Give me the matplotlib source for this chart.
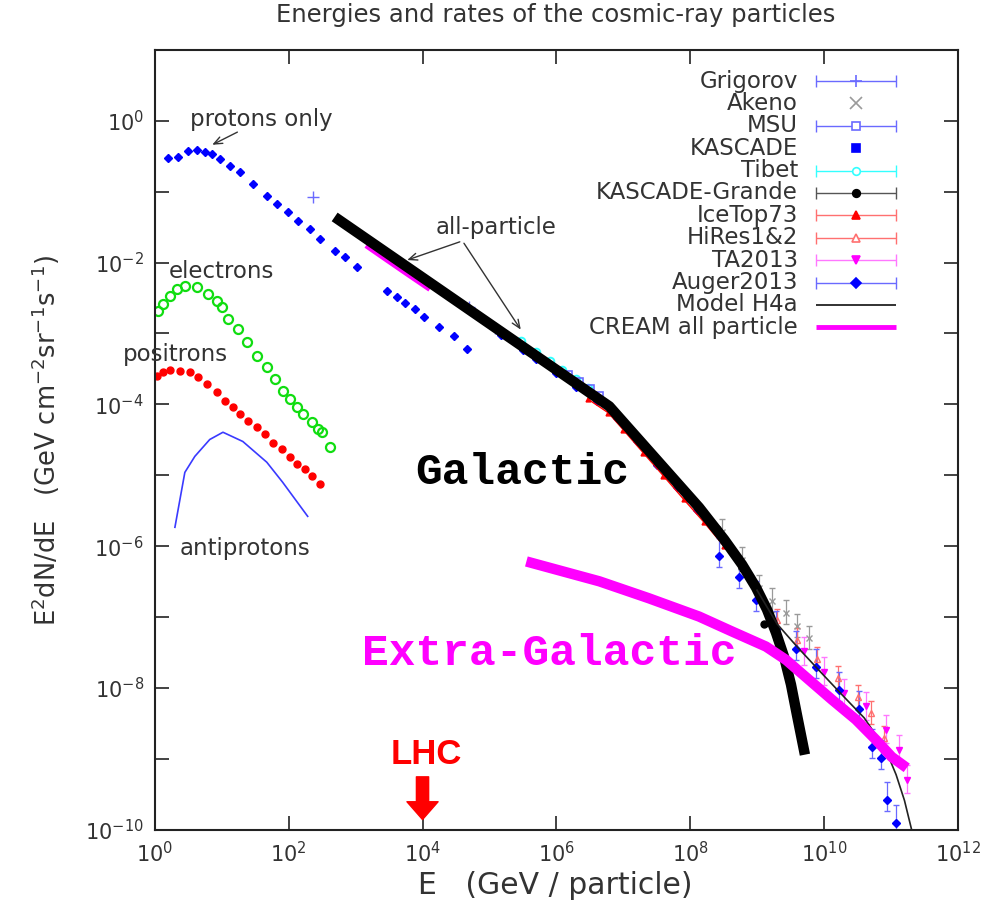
import math

import matplotlib
matplotlib.use("Agg")
import matplotlib.pyplot as plt
import matplotlib.ticker as ticker

plt.rcParams["font.family"] = ["DejaVu Sans"]
plt.rcParams["mathtext.fontset"] = "dejavusans"

# ---------------------------------------------------------------------------
# Data
# ---------------------------------------------------------------------------
protons_E = [1.56, 2.2, 3.1, 4.2, 5.6, 7.1, 9.3, 13.2, 18.6, 29, 47, 66, 97, 136,
             206, 290, 486, 686, 1035, 2900, 4090, 5500, 7600, 10700, 17900,
             30000, 47000]
protons_F = [0.30, 0.31, 0.377, 0.39, 0.365, 0.342, 0.29, 0.231, 0.19, 0.129,
             0.087, 0.067, 0.052, 0.0387, 0.0298, 0.0215, 0.0146, 0.012, 0.00867,
             0.00398, 0.00327, 0.0027, 0.00221, 0.0017, 0.00123, 0.00092, 0.0006]

electrons_E = [1.11, 1.32, 1.67, 2.13, 2.8, 4.2, 6.2, 8.4, 10, 12.3, 17.3, 23.6,
               33.3, 47, 62, 81, 103, 132, 162, 220, 271, 310, 409]
electrons_F = [2.07e-3, 2.6e-3, 3.37e-3, 4.24e-3, 4.68e-3, 4.52e-3, 3.6e-3,
               2.87e-3, 2.36e-3, 1.6e-3, 1.15e-3, 7.6e-4, 4.8e-4, 3.35e-4,
               2.27e-4, 1.53e-4, 1.18e-4, 9.1e-5, 7.3e-5, 5.6e-5, 4.5e-5,
               4.1e-5, 2.5e-5]

positrons_E = [1.07, 1.32, 1.67, 2.36, 3.33, 4.4, 6.0, 8.4, 11.1, 14.6, 18.6,
               24.4, 33.3, 43.8, 57.7, 78.6, 103, 132, 173, 220, 290]
positrons_F = [2.5e-4, 2.85e-4, 3.04e-4, 2.94e-4, 2.85e-4, 2.42e-4, 1.93e-4,
               1.49e-4, 1.11e-4, 9.1e-5, 7.3e-5, 5.8e-5, 4.8e-5, 3.8e-5, 2.9e-5,
               2.33e-5, 1.8e-5, 1.43e-5, 1.22e-5, 9.7e-6, 7.5e-6]

antiprotons_E = [1.99, 2.8, 3.95, 6.6, 10.4, 20.6, 47, 81, 192]
antiprotons_F = [1.85e-6, 1.1e-5, 1.85e-5, 3.2e-5, 4.05e-5, 3.0e-5, 1.53e-5,
                 8e-6, 2.64e-6]

galactic_E = [486, 6.2e6, 1.36e8, 3.22e8, 5.97e8, 9.66e8, 1.41e9, 1.92e9,
              2.53e9, 3.22e9, 3.95e9, 5.2e9]
galactic_F = [0.044, 9.4e-5, 3.53e-6, 1.25e-6, 5.53e-7, 2.62e-7, 1.28e-7,
              6.05e-8, 2.78e-8, 1.12e-8, 4.2e-9, 1.15e-9]

extragal_E = [3.57e5, 4.4e6, 2.4e7, 1.36e8, 4.2e8, 1.36e9, 2.71e9, 5.97e9,
              1.31e10, 3.0e10, 5.97e10, 1.03e11, 1.73e11]
extragal_F = [6.1e-7, 3.2e-7, 1.85e-7, 1.02e-7, 6.3e-8, 3.85e-8, 2.5e-8,
              1.31e-8, 6.9e-9, 3.6e-9, 1.87e-9, 1.07e-9, 7.5e-10]

cream_E = [1500, 3000, 6000, 1.2e4]
cream_F = [0.0165, 0.0105, 0.0067, 0.0043]

h4a_E = [1e9, 2e9, 4e9, 1e10, 2e10, 4e10, 8.4e10, 1.2e11, 1.6e11, 2.05e11]
h4a_F = [2.4e-7, 8e-8, 3.8e-8, 1.5e-8, 7.5e-9, 3.8e-9, 1.35e-9, 6e-10, 2.6e-10,
         1e-10]

grigorov_E = [230, 5e4, 1.2e5]
grigorov_F = [0.083, 2.4e-3, 1.2e-3]

kascade_E = [1.5e5, 3.16e5, 5e5, 1e6, 2e6, 4e6, 8e6, 1.6e7, 3.2e7, 6.4e7, 1.28e8]
kascade_F = [9.5e-4, 5.8e-4, 4.3e-4, 2.75e-4, 1.75e-4, 1.12e-4, 6.4e-5, 3.0e-5,
             1.42e-5, 6.8e-6, 3.2e-6]

tibet_E = [3e5, 5e5, 8e5, 1.2e6, 2e6, 3e6]
tibet_F = [7.8e-4, 5.5e-4, 4.1e-4, 3.1e-4, 2.25e-4, 1.7e-4]

msu_E = [1.5e6, 2.2e6, 3.2e6, 4.4e6]
msu_F = [2.6e-4, 2.1e-4, 1.65e-4, 1.3e-4]

akeno_E = [3e8, 6e8, 1.07e9, 1.7e9, 2.7e9, 4e9, 6e9]
akeno_F = [1.6e-6, 6.5e-7, 2.6e-7, 1.7e-7, 1.15e-7, 7.5e-8, 5e-8]

icetop_E = [3e6, 6e6, 1e7, 2e7, 4e7, 8e7, 1.6e8, 3.2e8, 6.4e8, 1e9]
icetop_F = [1.18e-4, 7.6e-5, 4.4e-5, 2.07e-5, 9.8e-6, 4.6e-6, 2.2e-6, 1.0e-6,
            4.8e-7, 2.6e-7]

grande_E = [2e7, 5e7, 1e8, 2.5e8, 6e8, 1.28e9]
grande_F = [2.65e-5, 9.9e-6, 4.7e-6, 1.75e-6, 5e-7, 7.9e-8]

hires_E = [2e9, 4e9, 8e9, 1.6e10, 3.2e10, 5e10, 8e10]
hires_F = [9e-8, 4.8e-8, 2.6e-8, 1.4e-8, 7.5e-9, 4.5e-9, 2e-9]

ta_E = [5e9, 1e10, 2e10, 4.2e10, 8.4e10, 1.32e11, 1.73e11]
ta_F = [3.3e-8, 1.7e-8, 8.5e-9, 5.5e-9, 2.6e-9, 1.35e-9, 5.1e-10]

auger_E = [2.7e8, 5.4e8, 9.7e8, 1.92e9, 3.8e9, 7.6e9, 1.67e10, 3.3e10, 5.2e10,
           7.1e10, 8.7e10, 1.19e11]
auger_F = [7.2e-7, 3.74e-7, 1.77e-7, 6.7e-8, 3.5e-8, 2.0e-8, 9.5e-9, 5.0e-9,
           1.49e-9, 1.04e-9, 2.65e-10, 1.26e-10]

x_ticks = [1e0, 1e2, 1e4, 1e6, 1e8, 1e10, 1e12]
y_ticks = [10.0 ** k for k in range(-10, 2)]

legend_labels = ["Grigorov", "Akeno", "MSU", "KASCADE", "Tibet", "KASCADE-Grande",
                 "IceTop73", "HiRes1&2", "TA2013", "Auger2013", "Model H4a",
                 "CREAM all particle"]

# ---------------------------------------------------------------------------
# Style
# ---------------------------------------------------------------------------
BLUE = "#0000ff"
LBLUE = "#6a6aff"
GREEN = "#11dd11"
RED = "#ff0000"
PINK = "#ff7070"
MAGENTA = "#ff00ff"
CYAN = "#33ffff"
GREY = "#9a9a9a"
TEXT = "#333333"

# (marker, marker colour, filled, line colour or None, linewidth)
legend_style = [
    ("+", LBLUE, True, LBLUE, 1.0),
    ("x", GREY, True, None, 1.0),
    ("s", LBLUE, False, LBLUE, 1.0),
    ("s", BLUE, True, None, 1.0),
    ("o", CYAN, False, CYAN, 1.0),
    ("o", "black", True, "#555555", 1.0),
    ("^", RED, True, PINK, 1.0),
    ("^", PINK, False, PINK, 1.0),
    ("v", MAGENTA, True, "#ff77ff", 1.0),
    ("D", BLUE, True, LBLUE, 1.0),
    (None, "black", True, "#222222", 1.3),
    (None, MAGENTA, True, MAGENTA, 3.5),
]


def _err(vals, lo, hi):
    return [[v * lo for v in vals], [v * hi for v in vals]]


fig = plt.figure(figsize=(10.06, 9.06), dpi=100)
ax = fig.add_axes([0.154, 0.084, 0.798, 0.861])
ax.set_xscale("log")
ax.set_yscale("log")
ax.set_xlim(1, 1e12)
ax.set_ylim(1e-10, 1e1)

# low-energy species
ax.plot(protons_E, protons_F, ls="none", marker="D", ms=4.5, color=BLUE, zorder=2)
ax.plot(electrons_E, electrons_F, ls="none", marker="o", ms=6.5, mfc="none",
        mec=GREEN, mew=1.6, zorder=2)
ax.plot(positrons_E, positrons_F, ls="none", marker="o", ms=5, color=RED,
        mec=RED, zorder=2)
ax.plot(antiprotons_E, antiprotons_F, color="#3a3aff", lw=1.2, zorder=2)

# air-shower / direct all-particle data
ax.plot(grigorov_E, grigorov_F, ls="none", marker="+", ms=9, mew=1.0,
        color=LBLUE, zorder=2)
ax.plot(kascade_E, kascade_F, ls="none", marker="D", ms=4, color=BLUE, zorder=2)
ax.plot(tibet_E, tibet_F, ls="none", marker="o", ms=5.5, mfc="none", mec=CYAN,
        mew=1.4, zorder=2)
ax.plot(msu_E, msu_F, ls="none", marker="s", ms=5.5, mfc="none", mec=LBLUE,
        mew=1.2, zorder=2)
ax.errorbar(akeno_E, akeno_F, yerr=_err(akeno_F, 0.3, 0.5), ls="none",
            marker="x", ms=5, color=GREY, ecolor=GREY, elinewidth=0.9,
            capsize=2.5, zorder=2)
ax.plot(icetop_E, icetop_F, ls="-", lw=1.0, marker="^", ms=3.5, color=RED,
        zorder=2)
ax.plot(grande_E, grande_F, ls="none", marker="o", ms=5, color="black", zorder=2)
ax.errorbar(hires_E, hires_F, yerr=_err(hires_F, 0.3, 0.45), ls="none",
            marker="^", ms=5, mfc="none", mec=PINK, ecolor=PINK, elinewidth=0.9,
            capsize=2.5, zorder=2)
ax.errorbar(ta_E, ta_F, yerr=_err(ta_F, 0.35, 0.6), ls="none", marker="v", ms=5,
            color=MAGENTA, ecolor="#ff77ff", elinewidth=0.9, capsize=2.5,
            zorder=2)
ax.errorbar(auger_E, auger_F, yerr=_err(auger_F, 0.3, 0.8), ls="none",
            marker="D", ms=4.5, color=BLUE, ecolor=LBLUE, elinewidth=0.9,
            capsize=2.5, zorder=2)

# model curves
ax.plot(cream_E, cream_F, color=MAGENTA, lw=3, zorder=3)
ax.plot(galactic_E, galactic_F, color="black", lw=7.5, zorder=4,
        solid_joinstyle="round", solid_capstyle="butt")
ax.plot(h4a_E, h4a_F, color="#222222", lw=1.2, zorder=4)
ax.plot(extragal_E, extragal_F, color=MAGENTA, lw=7.5, zorder=5,
        solid_joinstyle="round", solid_capstyle="butt")

# ---------------------------------------------------------------------------
# Annotations
# ---------------------------------------------------------------------------
lab_kw = dict(fontsize=16.5, color=TEXT, ha="center", va="center")
ax.text(39.5, 1.03, "protons only", **lab_kw)
ax.text(10, 7.4e-3, "electrons", **lab_kw)
ax.text(2.0, 5.1e-4, "positrons", **lab_kw)
ax.text(22, 9.3e-7, "antiprotons", **lab_kw)
ax.text(1.27e5, 0.0308, "all-particle", **lab_kw)

arrow_kw = dict(arrowstyle="->,head_length=0.6,head_width=0.25", color=TEXT, lw=1)
ax.annotate("", xy=(6.6, 0.44), xytext=(18.6, 0.72), arrowprops=arrow_kw)
ax.annotate("", xy=(5390, 0.01054), xytext=(3.95e4, 0.0202), arrowprops=arrow_kw)
ax.annotate("", xy=(3.1e5, 1.05e-3), xytext=(3.95e4, 0.0202), arrowprops=arrow_kw)

mono = dict(family=["Liberation Mono", "DejaVu Sans Mono"], fontweight="bold",
            fontsize=32, ha="center", va="center")
ax.text(3.1e5, 1.1e-5, "Galactic", color="black", **mono)
ax.text(7.9e5, 3.06e-8, "Extra-Galactic", color=MAGENTA, zorder=6, **mono)

ax.text(1.15e4, 1.15e-9, "LHC", color=RED, fontsize=25, fontweight="bold",
        family=["Liberation Sans", "DejaVu Sans"], ha="center", va="center")
ax.annotate("", xy=(1e4, 1.4e-10), xytext=(1e4, 5.6e-10),
            arrowprops=dict(arrowstyle="simple,head_width=1.4,head_length=0.8,"
                                       "tail_width=0.55",
                            color=RED, mutation_scale=16, shrinkA=0, shrinkB=0))

# ---------------------------------------------------------------------------
# Legend (gnuplot style: label right-aligned, error-bar sample on the right)
# ---------------------------------------------------------------------------
tr = ax.transAxes
for i, (label, (mk, mc, filled, lc, lw)) in enumerate(zip(legend_labels,
                                                         legend_style)):
    y = 0.960 - i * 0.0287
    ax.text(0.801, y, label, transform=tr, ha="right", va="center",
            fontsize=16.5, color=TEXT)
    if lc is not None:
        ax.plot([0.824, 0.923], [y, y], transform=tr, color=lc, lw=lw,
                solid_capstyle="butt")
        if mk is not None:
            ax.plot([0.824, 0.923], [y, y], transform=tr, ls="none", marker="|",
                    ms=8, mew=1.0, color=lc)
    if mk is not None:
        ax.plot([0.873], [y], transform=tr, ls="none", marker=mk,
                ms=8 if mk in "+x" else 5.5, mew=1.2,
                mfc=mc if filled else "white", mec=mc, color=mc)

# ---------------------------------------------------------------------------
# Axes cosmetics
# ---------------------------------------------------------------------------
ax.set_xticks(x_ticks)
ax.set_yticks(y_ticks)
ax.xaxis.set_minor_locator(ticker.NullLocator())
ax.yaxis.set_minor_locator(ticker.NullLocator())
ax.xaxis.set_major_formatter(ticker.FuncFormatter(
    lambda v, p: r"$10^{%d}$" % round(math.log10(v))))


def _ylab(v, pos):
    e = round(math.log10(v))
    return r"$10^{%d}$" % e if e % 2 == 0 else ""


ax.yaxis.set_major_formatter(ticker.FuncFormatter(_ylab))
ax.tick_params(which="both", direction="in", top=True, right=True, length=10,
               width=1.2, color="#222222", labelsize=15, labelcolor=TEXT, pad=8)
for s in ax.spines.values():
    s.set_linewidth(1.5)
    s.set_edgecolor("#222222")

fig.text(0.552, 0.983, "Energies and rates of the cosmic-ray particles",
         ha="center", va="center", fontsize=17.5, color=TEXT)
fig.text(0.045, 0.514,
         r"E$^2$dN/dE   (GeV cm$^{-2}$sr$^{-1}$s$^{-1}$)",
         rotation=90, ha="center", va="center", fontsize=18.5, color=TEXT)
fig.text(0.552, 0.023, "E   (GeV / particle)", ha="center", va="center",
         fontsize=21.5, color=TEXT)

fig.savefig("out.png", dpi=100, facecolor="white")
